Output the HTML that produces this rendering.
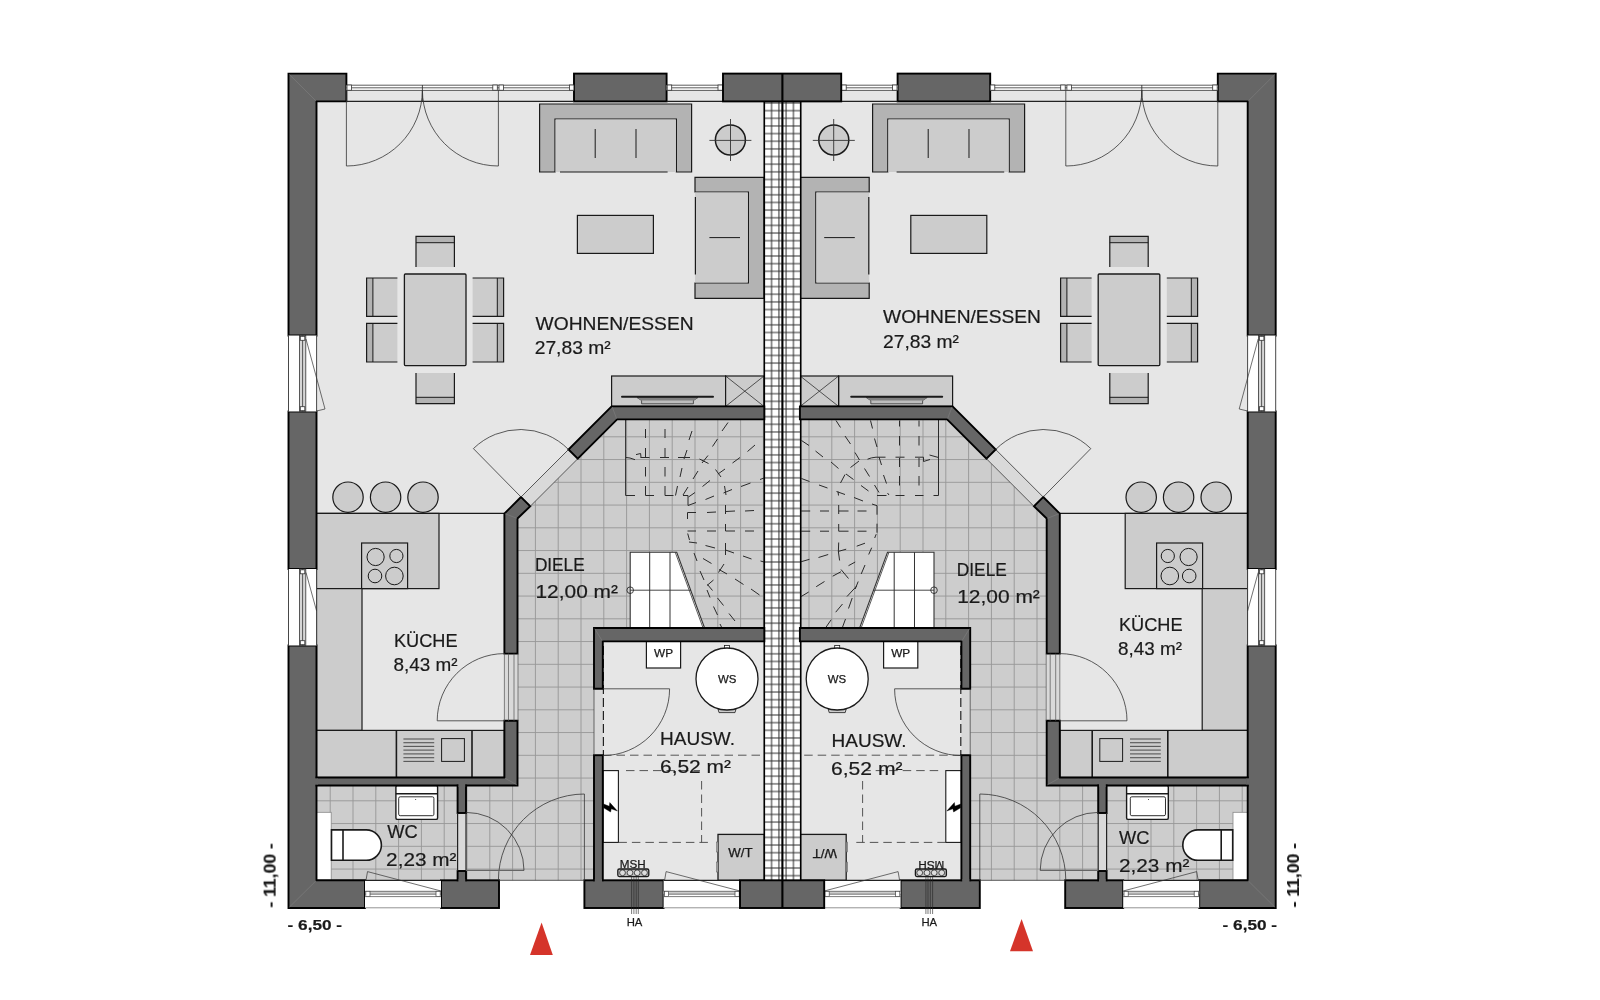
<!DOCTYPE html>
<html lang="de">
<head>
<meta charset="utf-8">
<title>Grundriss Erdgeschoss</title>
<style>
html,body{margin:0;padding:0;background:#fff;}
body{width:1600px;height:1000px;overflow:hidden;}
svg{display:block;}
text{font-family:"Liberation Sans",sans-serif;}
</style>
</head>
<body>
<svg width="1600" height="1000" viewBox="0 0 1600 1000">
<defs>
<pattern id="tile" patternUnits="userSpaceOnUse" x="615.20" y="425.43" width="22.80" height="22.75"><rect width="22.80" height="22.75" fill="#cdcdcd"/><path d="M11.40,0 V22.75 M0,11.38 H22.80" stroke="#969696" stroke-width="0.9" fill="none"/></pattern>
<pattern id="pw" patternUnits="userSpaceOnUse" x="760.60" y="99.17" width="7.30" height="7.65"><rect width="7.30" height="7.65" fill="#fff"/><path d="M3.65,0 V7.65 M0,3.83 H7.30" stroke="#2a2a2a" stroke-width="1" fill="none"/></pattern>
<g id="hfloor">
<rect x="316.50" y="101.40" width="447.80" height="778.90" fill="#e6e6e6" stroke="none" stroke-width="0" />
<rect x="346.40" y="90.20" width="227.60" height="11.20" fill="#e6e6e6" stroke="none" stroke-width="0" />
<rect x="666.60" y="90.20" width="56.40" height="11.20" fill="#e6e6e6" stroke="none" stroke-width="0" />
</g>
<g id="hfurn">
<polygon points="539.60,104.00 691.60,104.00 691.60,172.00 676.40,172.00 676.40,119.00 555.00,119.00 555.00,172.00 539.60,172.00" fill="#b3b3b3" stroke="#1a1a1a" stroke-width="1.2" />
<rect x="555.60" y="119.60" width="120.20" height="52.40" fill="#ccc" stroke="none" stroke-width="0" />
<line x1="560.00" y1="172.00" x2="667.60" y2="172.00" stroke="#1a1a1a" stroke-width="1.2" />
<line x1="595.20" y1="129.00" x2="595.20" y2="158.00" stroke="#1a1a1a" stroke-width="1" />
<line x1="636.00" y1="129.00" x2="636.00" y2="158.00" stroke="#1a1a1a" stroke-width="1" />
<polygon points="764.00,177.40 695.00,177.40 695.00,192.00 748.40,192.00 748.40,283.00 695.00,283.00 695.00,298.40 764.00,298.40" fill="#b3b3b3" stroke="#1a1a1a" stroke-width="1.2" />
<rect x="695.00" y="192.60" width="52.80" height="89.80" fill="#ccc" stroke="none" stroke-width="0" />
<line x1="695.40" y1="197.00" x2="695.40" y2="274.40" stroke="#1a1a1a" stroke-width="1.2" />
<line x1="709.40" y1="237.60" x2="740.00" y2="237.60" stroke="#1a1a1a" stroke-width="1" />
<rect x="577.40" y="215.40" width="76.00" height="38.00" fill="#ccc" stroke="#1a1a1a" stroke-width="1.2" />
<circle cx="730.40" cy="140.00" r="15.00" fill="#ccc" stroke="#1a1a1a" stroke-width="1.5"/>
<line x1="709.40" y1="140.40" x2="751.40" y2="140.40" stroke="#333" stroke-width="0.9" />
<line x1="730.50" y1="119.00" x2="730.50" y2="161.00" stroke="#333" stroke-width="0.9" />
<rect x="416.00" y="236.40" width="38.40" height="30.60" fill="#ccc" stroke="none" stroke-width="0" /><rect x="416.00" y="236.40" width="38.40" height="6.30" fill="#b3b3b3" stroke="none" stroke-width="0" /><path d="M416.00,267.00 V236.40 H454.40 V267.00" fill="none" stroke="#1a1a1a" stroke-width="1.2" /><line x1="416.00" y1="242.70" x2="454.40" y2="242.70" stroke="#1a1a1a" stroke-width="1" />
<rect x="416.00" y="373.00" width="38.40" height="30.60" fill="#ccc" stroke="none" stroke-width="0" /><rect x="416.00" y="397.30" width="38.40" height="6.30" fill="#b3b3b3" stroke="none" stroke-width="0" /><path d="M416.00,373.00 V403.60 H454.40 V373.00" fill="none" stroke="#1a1a1a" stroke-width="1.2" /><line x1="416.00" y1="397.30" x2="454.40" y2="397.30" stroke="#1a1a1a" stroke-width="1" />
<rect x="366.60" y="278.00" width="30.80" height="38.40" fill="#ccc" stroke="none" stroke-width="0" /><rect x="366.60" y="278.00" width="6.30" height="38.40" fill="#b3b3b3" stroke="none" stroke-width="0" /><path d="M397.40,278.00 H366.60 V316.40 H397.40" fill="none" stroke="#1a1a1a" stroke-width="1.2" /><line x1="372.90" y1="278.00" x2="372.90" y2="316.40" stroke="#1a1a1a" stroke-width="1" />
<rect x="366.60" y="323.40" width="30.80" height="38.60" fill="#ccc" stroke="none" stroke-width="0" /><rect x="366.60" y="323.40" width="6.30" height="38.60" fill="#b3b3b3" stroke="none" stroke-width="0" /><path d="M397.40,323.40 H366.60 V362.00 H397.40" fill="none" stroke="#1a1a1a" stroke-width="1.2" /><line x1="372.90" y1="323.40" x2="372.90" y2="362.00" stroke="#1a1a1a" stroke-width="1" />
<rect x="472.60" y="278.00" width="31.00" height="38.40" fill="#ccc" stroke="none" stroke-width="0" /><rect x="497.30" y="278.00" width="6.30" height="38.40" fill="#b3b3b3" stroke="none" stroke-width="0" /><path d="M472.60,278.00 H503.60 V316.40 H472.60" fill="none" stroke="#1a1a1a" stroke-width="1.2" /><line x1="497.30" y1="278.00" x2="497.30" y2="316.40" stroke="#1a1a1a" stroke-width="1" />
<rect x="472.60" y="323.40" width="31.00" height="38.60" fill="#ccc" stroke="none" stroke-width="0" /><rect x="497.30" y="323.40" width="6.30" height="38.60" fill="#b3b3b3" stroke="none" stroke-width="0" /><path d="M472.60,323.40 H503.60 V362.00 H472.60" fill="none" stroke="#1a1a1a" stroke-width="1.2" /><line x1="497.30" y1="323.40" x2="497.30" y2="362.00" stroke="#1a1a1a" stroke-width="1" />
<rect x="404.40" y="274.00" width="61.60" height="91.60" fill="#ccc" stroke="#1a1a1a" stroke-width="1.3" rx="1"/>
<rect x="611.60" y="376.00" width="114.00" height="30.40" fill="#ccc" stroke="#1a1a1a" stroke-width="1.2" />
<rect x="725.60" y="376.00" width="38.40" height="30.40" fill="#ccc" stroke="#1a1a1a" stroke-width="1.2" />
<line x1="725.60" y1="376.00" x2="764.00" y2="406.40" stroke="#1a1a1a" stroke-width="0.7" />
<line x1="725.60" y1="406.40" x2="764.00" y2="376.00" stroke="#1a1a1a" stroke-width="0.7" />
<polygon points="637.00,397.50 698.00,397.50 693.40,400.50 693.40,403.80 641.60,403.80 641.60,400.50" fill="#bdbdbd" stroke="#333" stroke-width="0.8" />
<polygon points="637.00,397.50 698.00,397.50 693.40,400.50 641.60,400.50" fill="#808080" stroke="none" stroke-width="0" />
<line x1="622.00" y1="396.80" x2="713.00" y2="396.80" stroke="#1a1a1a" stroke-width="2" stroke-linecap="round"/>
<circle cx="348.00" cy="497.20" r="15.20" fill="#ccc" stroke="#1a1a1a" stroke-width="1.2"/>
<circle cx="385.60" cy="497.20" r="15.20" fill="#ccc" stroke="#1a1a1a" stroke-width="1.2"/>
<circle cx="423.00" cy="497.20" r="15.20" fill="#ccc" stroke="#1a1a1a" stroke-width="1.2"/>
<rect x="316.50" y="513.40" width="122.50" height="75.20" fill="#ccc" stroke="#1a1a1a" stroke-width="1.2" />
<line x1="316.50" y1="513.40" x2="504.40" y2="513.40" stroke="#1a1a1a" stroke-width="1.2" />
<rect x="361.60" y="543.00" width="46.00" height="45.60" fill="#ccc" stroke="#1a1a1a" stroke-width="1.2" />
<circle cx="375.60" cy="557.00" r="8.60" fill="#ccc" stroke="#1a1a1a" stroke-width="1"/>
<circle cx="396.40" cy="556.00" r="6.60" fill="#ccc" stroke="#1a1a1a" stroke-width="1"/>
<circle cx="375.00" cy="576.00" r="6.80" fill="#ccc" stroke="#1a1a1a" stroke-width="1"/>
<circle cx="394.40" cy="576.00" r="8.80" fill="#ccc" stroke="#1a1a1a" stroke-width="1"/>
<rect x="316.50" y="588.60" width="45.50" height="141.80" fill="#ccc" stroke="#1a1a1a" stroke-width="1.2" />
<rect x="316.50" y="730.40" width="187.90" height="47.10" fill="#ccc" stroke="#1a1a1a" stroke-width="1.2" />
<line x1="396.40" y1="730.40" x2="396.40" y2="777.50" stroke="#1a1a1a" stroke-width="1.6" />
<line x1="472.00" y1="730.40" x2="472.00" y2="777.50" stroke="#1a1a1a" stroke-width="1.6" />
<line x1="403.40" y1="739.00" x2="434.20" y2="739.00" stroke="#555" stroke-width="1.1" />
<line x1="403.40" y1="742.70" x2="434.20" y2="742.70" stroke="#555" stroke-width="1.1" />
<line x1="403.40" y1="746.40" x2="434.20" y2="746.40" stroke="#555" stroke-width="1.1" />
<line x1="403.40" y1="750.10" x2="434.20" y2="750.10" stroke="#555" stroke-width="1.1" />
<line x1="403.40" y1="753.90" x2="434.20" y2="753.90" stroke="#555" stroke-width="1.1" />
<line x1="403.40" y1="757.70" x2="434.20" y2="757.70" stroke="#555" stroke-width="1.1" />
<line x1="403.40" y1="761.40" x2="434.20" y2="761.40" stroke="#555" stroke-width="1.1" />
<rect x="441.60" y="738.60" width="22.80" height="22.80" fill="#ccc" stroke="#1a1a1a" stroke-width="1" />
<rect x="316.50" y="812.30" width="14.70" height="68.00" fill="#fff" stroke="#888" stroke-width="0.8" />
<path d="M331.5,829.9 H366.2 A15.2,15.2 0 0 1 366.2,860.3 H331.5 Z" fill="#fff" stroke="#1a1a1a" stroke-width="1.6" />
<line x1="343.00" y1="829.90" x2="343.00" y2="860.30" stroke="#1a1a1a" stroke-width="1.6" />
<rect x="395.90" y="785.50" width="41.70" height="33.90" fill="#fff" stroke="#1a1a1a" stroke-width="1.4" rx="1.5"/>
<line x1="395.90" y1="793.80" x2="437.60" y2="793.80" stroke="#1a1a1a" stroke-width="1.6" />
<rect x="398.70" y="796.80" width="35.20" height="18.90" fill="#fff" stroke="#1a1a1a" stroke-width="0.9" rx="1.5"/>
<circle cx="415.70" cy="799.40" r="0.50" fill="#1a1a1a" stroke="#1a1a1a" stroke-width="0"/>
<rect x="646.40" y="641.40" width="34.20" height="26.60" fill="#fff" stroke="#1a1a1a" stroke-width="1.2" />
<rect x="724.50" y="645.50" width="5.00" height="3.50" fill="#fff" stroke="#1a1a1a" stroke-width="0.8" />
<polygon points="718.00,709.00 736.00,709.00 735.00,712.60 719.00,712.60" fill="#ccc" stroke="#1a1a1a" stroke-width="0.8" />
<circle cx="727.00" cy="679.00" r="31.00" fill="#fff" stroke="#1a1a1a" stroke-width="1.3"/>
<rect x="603.00" y="770.60" width="15.40" height="71.80" fill="#fff" stroke="#1a1a1a" stroke-width="1.1" />
<polygon points="603.60,804.00 609.30,806.30 609.80,802.60 617.40,811.00 611.30,808.80 610.60,812.00 603.60,807.80" fill="#000" stroke="#000" stroke-width="0.4" />
<rect x="718.00" y="834.40" width="46.30" height="45.90" fill="#ccc" stroke="#1a1a1a" stroke-width="1.3" />
<rect x="716.60" y="842.00" width="1.40" height="10.00" fill="#b3b3b3" stroke="#555" stroke-width="0.5" />
<rect x="716.60" y="862.00" width="1.40" height="10.00" fill="#b3b3b3" stroke="#555" stroke-width="0.5" />
<rect x="617.80" y="869.00" width="31.00" height="7.60" fill="#bbb" stroke="#1a1a1a" stroke-width="1.3" rx="1.5"/>
<circle cx="622.50" cy="872.80" r="2.90" fill="#ddd" stroke="#1a1a1a" stroke-width="0.7"/>
<circle cx="630.00" cy="872.80" r="2.90" fill="#ddd" stroke="#1a1a1a" stroke-width="0.7"/>
<circle cx="637.20" cy="872.80" r="2.90" fill="#ddd" stroke="#1a1a1a" stroke-width="0.7"/>
<circle cx="644.50" cy="872.80" r="2.90" fill="#ddd" stroke="#1a1a1a" stroke-width="0.7"/>
<line x1="603.00" y1="755.20" x2="764.00" y2="755.20" stroke="#444" stroke-width="0.9" stroke-dasharray="8.5 5"/>
<line x1="626.00" y1="770.60" x2="700.00" y2="770.60" stroke="#444" stroke-width="0.9" stroke-dasharray="8.5 5"/>
<line x1="701.60" y1="781.00" x2="701.60" y2="842.40" stroke="#444" stroke-width="0.9" stroke-dasharray="8.5 5"/>
<line x1="618.40" y1="842.40" x2="712.00" y2="842.40" stroke="#444" stroke-width="0.9" stroke-dasharray="8.5 5"/>
<line x1="603.40" y1="646.00" x2="603.40" y2="756.00" stroke="#222" stroke-width="1.2" stroke-dasharray="9 4"/>
<polygon points="630.20,552.20 676.70,552.20 704.50,627.80 630.20,627.80" fill="#fff" stroke="#333" stroke-width="1.1" />
<line x1="675.20" y1="552.20" x2="703.00" y2="627.80" stroke="#333" stroke-width="0.8" />
<line x1="649.70" y1="552.20" x2="649.70" y2="627.80" stroke="#333" stroke-width="1" />
<line x1="670.00" y1="552.20" x2="670.00" y2="627.80" stroke="#333" stroke-width="1" />
<line x1="630.20" y1="590.20" x2="691.00" y2="590.20" stroke="#333" stroke-width="0.9" />
<circle cx="630.20" cy="590.20" r="3.30" fill="none" stroke="#1a1a1a" stroke-width="0.8"/>
</g>
<g id="hwall">
<polygon points="288.50,73.60 346.40,73.60 346.40,101.40 316.50,101.40 316.50,335.50 288.50,335.50" fill="#666" stroke="#000" stroke-width="1.9" />
<rect x="574.00" y="73.60" width="92.60" height="27.80" fill="#666" stroke="#000" stroke-width="1.9" />
<rect x="288.50" y="411.50" width="28.00" height="157.50" fill="#666" stroke="#000" stroke-width="1.9" />
<polygon points="288.50,645.50 316.50,645.50 316.50,880.30 365.00,880.30 365.00,908.00 288.50,908.00" fill="#666" stroke="#000" stroke-width="1.9" />
<rect x="441.00" y="880.30" width="58.00" height="27.70" fill="#666" stroke="#000" stroke-width="1.9" />
<rect x="584.40" y="880.30" width="79.20" height="27.70" fill="#666" stroke="#000" stroke-width="1.9" />
<line x1="289.50" y1="74.60" x2="316.00" y2="101.00" stroke="#7d7d7d" stroke-width="0.7" />
<line x1="289.50" y1="907.00" x2="316.00" y2="880.80" stroke="#7d7d7d" stroke-width="0.7" />
<polygon points="764.30,406.40 611.60,406.40 568.50,449.50 577.75,458.75 617.10,419.40 764.30,419.40" fill="#666" stroke="#000" stroke-width="1.9" />
<polygon points="521.00,497.00 504.40,513.60 504.40,653.60 517.50,653.60 517.50,518.50 530.25,506.25" fill="#666" stroke="#000" stroke-width="1.9" />
<polygon points="504.40,720.80 517.50,720.80 517.50,785.50 316.50,785.50 316.50,777.50 504.40,777.50" fill="#666" stroke="#000" stroke-width="1.9" />
<rect x="457.60" y="785.50" width="8.40" height="27.50" fill="#666" stroke="#000" stroke-width="1.9" />
<rect x="457.60" y="871.00" width="8.40" height="9.30" fill="#666" stroke="#000" stroke-width="1.9" />
<polygon points="764.30,628.00 594.00,628.00 594.00,688.80 602.80,688.80 602.80,641.40 764.30,641.40" fill="#666" stroke="#000" stroke-width="1.9" />
<rect x="594.00" y="755.20" width="8.80" height="125.10" fill="#666" stroke="#000" stroke-width="1.9" />
<line x1="612.30" y1="407.20" x2="616.60" y2="418.60" stroke="#7d7d7d" stroke-width="0.7" />
<line x1="505.30" y1="513.80" x2="516.80" y2="518.30" stroke="#7d7d7d" stroke-width="0.7" />
<line x1="594.80" y1="628.80" x2="602.20" y2="640.80" stroke="#7d7d7d" stroke-width="0.7" />
<line x1="516.80" y1="784.80" x2="505.00" y2="778.20" stroke="#7d7d7d" stroke-width="0.7" />
<rect x="315.00" y="778.30" width="3.00" height="6.40" fill="#666" stroke="none" stroke-width="0" />
<rect x="458.40" y="784.00" width="6.80" height="3.00" fill="#666" stroke="none" stroke-width="0" />
<rect x="458.40" y="879.00" width="6.80" height="3.00" fill="#666" stroke="none" stroke-width="0" />
<rect x="594.80" y="879.00" width="7.20" height="3.00" fill="#666" stroke="none" stroke-width="0" />
<line x1="631.60" y1="877.00" x2="631.60" y2="914.00" stroke="#222" stroke-width="0.6" />
<line x1="633.90" y1="877.00" x2="633.90" y2="914.00" stroke="#222" stroke-width="0.6" />
<line x1="636.20" y1="877.00" x2="636.20" y2="914.00" stroke="#222" stroke-width="0.6" />
<line x1="638.30" y1="877.00" x2="638.30" y2="914.00" stroke="#222" stroke-width="0.6" />
<line x1="499.00" y1="880.30" x2="584.40" y2="880.30" stroke="#333" stroke-width="0.8" />
<rect x="346.40" y="85.00" width="227.60" height="5.25" fill="#fff" stroke="none" stroke-width="0" /><line x1="346.40" y1="85.20" x2="574.00" y2="85.20" stroke="#333" stroke-width="0.8" /><line x1="346.40" y1="87.80" x2="574.00" y2="87.80" stroke="#333" stroke-width="0.8" /><line x1="346.40" y1="90.40" x2="574.00" y2="90.40" stroke="#333" stroke-width="0.8" /><line x1="346.40" y1="101.40" x2="574.00" y2="101.40" stroke="#222" stroke-width="1.1" /><rect x="347.00" y="85.00" width="4.50" height="5.25" fill="#fff" stroke="#333" stroke-width="0.8" /><rect x="492.80" y="85.00" width="4.50" height="5.25" fill="#fff" stroke="#333" stroke-width="0.8" /><rect x="499.00" y="85.00" width="4.50" height="5.25" fill="#fff" stroke="#333" stroke-width="0.8" /><rect x="569.40" y="85.00" width="4.50" height="5.25" fill="#fff" stroke="#333" stroke-width="0.8" />
<rect x="666.60" y="85.00" width="56.40" height="5.25" fill="#fff" stroke="none" stroke-width="0" /><line x1="666.60" y1="85.20" x2="723.00" y2="85.20" stroke="#333" stroke-width="0.8" /><line x1="666.60" y1="87.80" x2="723.00" y2="87.80" stroke="#333" stroke-width="0.8" /><line x1="666.60" y1="90.40" x2="723.00" y2="90.40" stroke="#333" stroke-width="0.8" /><line x1="666.60" y1="101.40" x2="723.00" y2="101.40" stroke="#222" stroke-width="1.1" /><rect x="667.20" y="85.00" width="4.50" height="5.25" fill="#fff" stroke="#333" stroke-width="0.8" /><rect x="718.00" y="85.00" width="4.50" height="5.25" fill="#fff" stroke="#333" stroke-width="0.8" />
<line x1="346.40" y1="90.20" x2="346.40" y2="166.00" stroke="#333" stroke-width="0.8" />
<line x1="498.40" y1="90.20" x2="498.40" y2="166.00" stroke="#333" stroke-width="0.8" />
<line x1="422.40" y1="85.00" x2="422.40" y2="101.40" stroke="#333" stroke-width="0.9" />
<path d="M346.4,166 A76,76 0 0 0 422.4,90" fill="none" stroke="#333" stroke-width="0.8" />
<path d="M498.4,166 A76,76 0 0 1 422.4,90" fill="none" stroke="#333" stroke-width="0.8" />
<rect x="288.50" y="335.50" width="28.10" height="76.00" fill="#fff" stroke="none" stroke-width="0" /><rect x="299.50" y="335.50" width="6.30" height="76.00" fill="#d6d6d6" stroke="#333" stroke-width="0.8" /><line x1="302.60" y1="335.50" x2="302.60" y2="411.50" stroke="#333" stroke-width="0.8" /><line x1="288.50" y1="335.50" x2="288.50" y2="411.50" stroke="#333" stroke-width="0.9" /><line x1="316.60" y1="335.50" x2="316.60" y2="411.50" stroke="#333" stroke-width="0.9" /><rect x="300.30" y="336.30" width="4.50" height="4.00" fill="#fff" stroke="#333" stroke-width="0.8" /><rect x="300.30" y="406.70" width="4.50" height="4.00" fill="#fff" stroke="#333" stroke-width="0.8" /><path d="M306,339.0 L325,409.0 L316.6,411.0" fill="none" stroke="#333" stroke-width="0.7" />
<rect x="288.50" y="569.00" width="28.10" height="76.50" fill="#fff" stroke="none" stroke-width="0" /><rect x="299.50" y="569.00" width="6.30" height="76.50" fill="#d6d6d6" stroke="#333" stroke-width="0.8" /><line x1="302.60" y1="569.00" x2="302.60" y2="645.50" stroke="#333" stroke-width="0.8" /><line x1="288.50" y1="569.00" x2="288.50" y2="645.50" stroke="#333" stroke-width="0.9" /><line x1="316.60" y1="569.00" x2="316.60" y2="645.50" stroke="#333" stroke-width="0.9" /><rect x="300.30" y="569.80" width="4.50" height="4.00" fill="#fff" stroke="#333" stroke-width="0.8" /><rect x="300.30" y="640.70" width="4.50" height="4.00" fill="#fff" stroke="#333" stroke-width="0.8" /><path d="M306,572.5 L316.6,611.0" fill="none" stroke="#333" stroke-width="0.7" />
<rect x="365.00" y="880.30" width="76.00" height="27.70" fill="#fff" stroke="none" stroke-width="0" /><line x1="365.00" y1="880.30" x2="441.00" y2="880.30" stroke="#222" stroke-width="1.2" /><line x1="365.00" y1="907.80" x2="441.00" y2="907.80" stroke="#888" stroke-width="0.9" /><rect x="365.00" y="891.30" width="76.00" height="2.90" fill="#ccc" stroke="none" stroke-width="0" /><line x1="365.00" y1="891.30" x2="441.00" y2="891.30" stroke="#444" stroke-width="0.7" /><line x1="365.00" y1="894.20" x2="441.00" y2="894.20" stroke="#444" stroke-width="0.7" /><line x1="365.00" y1="896.60" x2="441.00" y2="896.60" stroke="#444" stroke-width="0.7" /><rect x="365.80" y="891.30" width="4.20" height="5.30" fill="#fff" stroke="#444" stroke-width="0.7" /><rect x="436.00" y="891.30" width="4.20" height="5.30" fill="#fff" stroke="#444" stroke-width="0.7" /><path d="M366.0,880.3 L367.5,871.6 L441.0,891" fill="none" stroke="#333" stroke-width="0.7" />
<rect x="663.60" y="880.30" width="76.40" height="27.70" fill="#fff" stroke="none" stroke-width="0" /><line x1="663.60" y1="880.30" x2="740.00" y2="880.30" stroke="#222" stroke-width="1.2" /><line x1="663.60" y1="907.80" x2="740.00" y2="907.80" stroke="#888" stroke-width="0.9" /><rect x="663.60" y="891.30" width="76.40" height="2.90" fill="#ccc" stroke="none" stroke-width="0" /><line x1="663.60" y1="891.30" x2="740.00" y2="891.30" stroke="#444" stroke-width="0.7" /><line x1="663.60" y1="894.20" x2="740.00" y2="894.20" stroke="#444" stroke-width="0.7" /><line x1="663.60" y1="896.60" x2="740.00" y2="896.60" stroke="#444" stroke-width="0.7" /><rect x="664.40" y="891.30" width="4.20" height="5.30" fill="#fff" stroke="#444" stroke-width="0.7" /><rect x="735.00" y="891.30" width="4.20" height="5.30" fill="#fff" stroke="#444" stroke-width="0.7" /><path d="M664.6,880.3 L666.1,871.6 L740.0,891" fill="none" stroke="#333" stroke-width="0.7" />
<line x1="584.40" y1="794.00" x2="584.40" y2="880.30" stroke="#333" stroke-width="0.8" />
<path d="M584.4,794 A86.3,86.3 0 0 0 498.4,880.3" fill="none" stroke="#333" stroke-width="0.8" />
<line x1="457.60" y1="813.00" x2="457.60" y2="871.00" stroke="#222" stroke-width="1.2" />
<line x1="466.00" y1="813.00" x2="466.00" y2="871.00" stroke="#222" stroke-width="1.2" />
<line x1="466.00" y1="870.40" x2="524.00" y2="870.40" stroke="#666" stroke-width="1.1" />
<path d="M524,870.4 A58,58 0 0 0 466,812.4" fill="none" stroke="#333" stroke-width="0.8" />
<line x1="504.40" y1="653.60" x2="504.40" y2="720.80" stroke="#555" stroke-width="0.7" />
<line x1="508.50" y1="653.60" x2="508.50" y2="720.80" stroke="#555" stroke-width="0.7" />
<line x1="514.00" y1="653.60" x2="514.00" y2="720.80" stroke="#555" stroke-width="0.7" />
<line x1="518.00" y1="653.60" x2="518.00" y2="720.80" stroke="#555" stroke-width="0.7" />
<line x1="437.20" y1="720.80" x2="504.40" y2="720.80" stroke="#333" stroke-width="0.8" />
<path d="M437.2,720.8 A67.2,67.2 0 0 1 504.4,653.6" fill="none" stroke="#333" stroke-width="0.8" />
<line x1="568.50" y1="449.50" x2="521.00" y2="497.00" stroke="#333" stroke-width="0.8" />
<line x1="577.75" y1="458.75" x2="530.25" y2="506.25" stroke="#333" stroke-width="0.8" />
<line x1="521.00" y1="497.00" x2="473.40" y2="448.60" stroke="#333" stroke-width="0.8" />
<path d="M473.4,448.6 A67.6,67.6 0 0 1 568.5,449.5" fill="none" stroke="#333" stroke-width="0.8" />
<line x1="594.00" y1="688.80" x2="594.00" y2="755.20" stroke="#333" stroke-width="0.7" />
<line x1="602.80" y1="688.80" x2="669.60" y2="688.80" stroke="#333" stroke-width="0.8" />
<path d="M669.6,688.8 A66.8,66.8 0 0 1 602.8,755.6" fill="none" stroke="#333" stroke-width="0.8" />
</g>
</defs>
<rect width="1600" height="1000" fill="#fff"/>
<use href="#hfloor"/>
<use href="#hfloor" transform="translate(1564.2,0) scale(-1,1)"/>
<g fill="url(#tile)" stroke="none">
<polygon points="617.10,419.40 764.30,419.40 764.30,628.00 594.00,628.00 594.00,880.30 316.50,880.30 316.50,785.50 518.00,785.50 518.00,518.50"/>
<polygon points="947.10,419.40 799.90,419.40 799.90,628.00 970.20,628.00 970.20,880.30 1247.70,880.30 1247.70,785.50 1046.20,785.50 1046.20,518.50"/>
</g>
<g fill="#d9d9d9" stroke="none">
<polygon points="568.50,449.50 577.75,458.75 530.25,506.25 521.00,497.00"/>
<polygon points="504.40,653.60 518.00,653.60 518.00,720.80 504.40,720.80"/>
<polygon points="594.00,688.80 602.80,688.80 602.80,755.20 594.00,755.20"/>
<polygon points="457.60,813.00 466.00,813.00 466.00,871.00 457.60,871.00"/>
<polygon points="995.70,449.50 986.45,458.75 1033.95,506.25 1043.20,497.00"/>
<polygon points="1059.80,653.60 1046.20,653.60 1046.20,720.80 1059.80,720.80"/>
<polygon points="970.20,688.80 961.40,688.80 961.40,755.20 970.20,755.20"/>
<polygon points="1106.60,813.00 1098.20,813.00 1098.20,871.00 1106.60,871.00"/>
</g>
<use href="#hfurn"/>
<use href="#hfurn" transform="translate(1564.2,0) scale(-1,1)"/>
<path d="M625.6,419.5 V495.5 H635 M645.5,429.0 V438.0 M645.5,448.0 V457.5 M645.5,467.0 V476.5 M645.5,486.0 V495.5 M640.5,457.5 H649.5 M645.5,495.5 H654.0 M665.0,429.0 V438.0 M665.0,448.0 V457.5 M665.0,467.0 V476.5 M665.0,486.0 V495.5 M660.0,457.5 H669.0 M665.0,495.5 H673.5 M626,457.5 L630,458 L635,459.7 M636,454.6 L640.6,453.5 L641,457.5 M692.0,431.0 L689.0,440.0 M687.0,450.0 L684.0,459.0 M678.0,457.5 L690.0,457.5 M682.0,468.0 L680.0,477.0 M677.5,486.0 L675.5,495.5 M728.0,422.5 L722.0,431.0 M717.5,439.0 L712.5,446.5 M708.0,455.5 L702.0,463.0 M699.5,459.0 L708.5,463.5 M698.0,471.0 L693.0,479.0 M688.0,487.0 L683.0,495.0 M755.0,445.0 L747.5,451.5 M740.0,457.5 L732.5,463.0 M725.0,469.0 L718.0,474.0 M715.5,469.5 L721.0,477.0 M710.0,480.5 L702.5,486.5 M695.0,492.5 L688.5,497.0 M764.0,478.0 L760.0,479.5 M750.5,483.0 L741.0,486.5 M732.0,489.5 L723.5,493.0 M724.5,486.0 L726.0,495.0 M714.0,496.0 L705.5,499.5 M696.0,502.5 L688.0,505.5 M707.0,512.5 L716.0,512.0 M725.5,505.0 L725.5,514.0 M725.5,511.5 L735.0,511.0 M745.0,511.0 L754.0,510.5 M687.5,531.0 L696.0,531.0 M707.0,531.0 L716.0,531.0 M725.5,524.0 L725.5,531.0 M725.5,531.0 L735.0,531.0 M745.0,531.0 L754.0,531.0 M687.7,533.5 L689.5,540.0 M689.0,542.0 L697.0,543.0 M705.5,545.5 L715.0,548.0 M725.5,543.0 L725.5,555.0 M725.5,550.0 L734.0,553.0 M743.0,556.0 L751.5,559.0 M760.5,561.0 L764.0,562.0 M694.0,553.0 L697.0,561.0 M703.0,558.5 L711.5,563.5 M724.0,564.0 L718.5,572.5 M719.0,569.5 L727.0,574.0 M735.0,579.0 L743.5,584.5 M751.0,589.0 L759.5,595.0 M700.0,571.0 L704.0,580.0 M713.5,580.0 L707.0,585.5 M707.5,584.5 L712.5,590.5 M717.5,598.0 L723.5,605.5 M729.0,613.5 L735.0,621.0 M707.0,590.0 L710.0,597.5 M713.5,606.5 L717.5,615.0 M720.0,624.0 L721.5,627.0 M683,495.5 H688 V505.5 M687.5,519 V512.5 H696" fill="none" stroke="#2a2a2a" stroke-width="1.0" />
<path d="M938.5,419.5 V495.5 M870.5,420.5 L872.5,428.5 M874.5,438.5 L877.0,447.0 M879.0,457.0 L881.5,465.0 M883.5,475.0 L886.5,483.5 M836.0,420.5 L840.5,427.5 M845.0,436.0 L850.5,444.0 M855.0,452.5 L859.5,460.0 M864.5,468.5 L869.5,476.5 M874.5,485.0 L879.0,492.5 M801.5,440.5 L809.0,445.5 M815.5,451.0 L823.0,457.0 M831.0,462.0 L838.5,468.5 M846.0,474.0 L853.5,479.5 M861.0,485.5 L868.5,491.0 M801.5,478.5 L809.5,481.5 M819.0,485.0 L827.5,488.0 M836.5,491.5 L845.0,494.5 M854.0,497.5 L863.0,501.0 M872.0,504.0 L877.0,505.7 M850.5,467.5 L859.0,461.0 M840.5,483.0 L845.0,474.5 M838.5,495.5 L838.0,491.5 M887.5,493.0 L889.0,495.0 M923.5,457.2 L915.0,457.2 M904.5,457.2 L895.5,457.2 M885.5,457.2 L876.0,457.2 M938.5,495.5 L933.5,495.5 M923.5,495.5 L915.0,495.5 M904.5,495.5 L895.5,495.5 M886.5,495.5 L877.0,495.5 M801.2,511.0 L810.2,511.0 M820.0,511.0 L829.0,511.0 M838.7,511.0 L848.5,511.0 M857.5,511.0 L866.5,511.0 M801.2,531.2 L810.2,531.2 M820.0,531.2 L829.0,531.2 M838.7,531.2 L848.5,531.2 M857.5,531.2 L866.5,531.2 M838.7,505.0 L838.7,514.0 M838.7,524.0 L838.7,531.2 M877.0,505.7 L877.0,514.7 M877.0,523.7 L877.0,532.7 M876.2,534.2 L874.7,538.0 M871.7,547.7 L868.7,554.5 M865.0,565.0 L861.2,574.0 M858.2,581.5 L855.2,589.0 M852.2,598.0 L848.5,608.5 M845.5,619.0 L842.5,627.2 M856.7,586.0 L847.0,596.5 M842.5,604.0 L835.7,612.2 M831.2,619.7 L826.0,627.2 M865.0,543.2 L856.7,546.2 M846.2,549.2 L838.0,551.5 M828.2,554.5 L818.5,557.5 M809.5,559.3 L801.2,561.7 M855.2,562.0 L848.5,565.7 M841.0,571.7 L832.7,576.2 M824.5,581.5 L816.2,586.7 M808.7,592.0 L801.2,596.5 M841.0,569.5 L848.5,578.5 M919.0,420.5 L919.0,426.5 M919.0,436.0 L919.0,445.5 M919.0,458.0 L919.0,467.0 M919.0,476.0 L919.0,485.5 M899.5,420.5 L899.5,426.5 M899.5,436.0 L899.5,445.5 M899.5,458.0 L899.5,467.0 M899.5,476.0 L899.5,485.5 M876,457.2 Q871,457.6 867.5,459.2 M923.5,457.2 V461.5 L930,459.5 M929.5,455 L938.5,457.5 M838.7,542.5 Q837.6,551.5 839.6,560.5" fill="none" stroke="#2a2a2a" stroke-width="1.0" />
<rect x="764.25" y="101.4" width="36.5" height="778.9" fill="url(#pw)"/>
<line x1="764.25" y1="101.40" x2="764.25" y2="880.30" stroke="#000" stroke-width="1.6" />
<line x1="800.75" y1="101.40" x2="800.75" y2="880.30" stroke="#000" stroke-width="1.6" />
<use href="#hwall"/>
<use href="#hwall" transform="translate(1564.2,0) scale(-1,1)"/>
<rect x="723.00" y="73.60" width="118.20" height="27.80" fill="#666" stroke="#000" stroke-width="1.9" />
<rect x="740.00" y="880.30" width="84.20" height="27.70" fill="#666" stroke="#000" stroke-width="1.9" />
<line x1="782.40" y1="73.60" x2="782.40" y2="908.00" stroke="#000" stroke-width="2.1" />
<polygon points="541.60,922.60 552.80,955.00 530.00,955.00" fill="#d5342a" stroke="none" stroke-width="0" />
<polygon points="1021.60,919.00 1033.00,951.20 1010.00,951.20" fill="#d5342a" stroke="none" stroke-width="0" />
<g opacity="0.999" stroke="#1a1a1a" stroke-width="0.2">
<text x="535.6" y="330.0" font-size="18.2" font-weight="normal" fill="#1a1a1a" textLength="158.0" lengthAdjust="spacingAndGlyphs" >WOHNEN/ESSEN</text>
<text x="534.7" y="354.3" font-size="18.2" font-weight="normal" fill="#1a1a1a" textLength="76.0" lengthAdjust="spacingAndGlyphs" >27,83 m²</text>
<text x="883.0" y="323.4" font-size="18.2" font-weight="normal" fill="#1a1a1a" textLength="158.0" lengthAdjust="spacingAndGlyphs" >WOHNEN/ESSEN</text>
<text x="883.0" y="348.0" font-size="18.2" font-weight="normal" fill="#1a1a1a" textLength="76.0" lengthAdjust="spacingAndGlyphs" >27,83 m²</text>
<text x="534.9" y="570.6" font-size="19.2" font-weight="normal" fill="#1a1a1a" textLength="49.8" lengthAdjust="spacingAndGlyphs" >DIELE</text>
<text x="535.5" y="598.0" font-size="19" font-weight="normal" fill="#1a1a1a" textLength="82.4" lengthAdjust="spacingAndGlyphs" >12,00 m²</text>
<text x="956.8" y="575.6" font-size="19.2" font-weight="normal" fill="#1a1a1a" textLength="50.0" lengthAdjust="spacingAndGlyphs" >DIELE</text>
<text x="957.2" y="603.1" font-size="19" font-weight="normal" fill="#1a1a1a" textLength="82.6" lengthAdjust="spacingAndGlyphs" >12,00 m²</text>
<text x="394.0" y="647.4" font-size="18.2" font-weight="normal" fill="#1a1a1a" textLength="63.6" lengthAdjust="spacingAndGlyphs" >KÜCHE</text>
<text x="393.6" y="671.0" font-size="18.2" font-weight="normal" fill="#1a1a1a" textLength="64.0" lengthAdjust="spacingAndGlyphs" >8,43 m²</text>
<text x="1119.0" y="631.0" font-size="18.2" font-weight="normal" fill="#1a1a1a" textLength="63.6" lengthAdjust="spacingAndGlyphs" >KÜCHE</text>
<text x="1118.0" y="655.4" font-size="18.2" font-weight="normal" fill="#1a1a1a" textLength="64.0" lengthAdjust="spacingAndGlyphs" >8,43 m²</text>
<text x="660.0" y="745.4" font-size="18.2" font-weight="normal" fill="#1a1a1a" textLength="75.0" lengthAdjust="spacingAndGlyphs" >HAUSW.</text>
<text x="660.0" y="773.2" font-size="18.2" font-weight="normal" fill="#1a1a1a" textLength="71.0" lengthAdjust="spacingAndGlyphs" >6,52 m²</text>
<text x="831.5" y="747.2" font-size="18.2" font-weight="normal" fill="#1a1a1a" textLength="75.0" lengthAdjust="spacingAndGlyphs" >HAUSW.</text>
<text x="831.0" y="775.2" font-size="18.2" font-weight="normal" fill="#1a1a1a" textLength="71.5" lengthAdjust="spacingAndGlyphs" >6,52 m²</text>
<text x="387.2" y="838.3" font-size="18.2" font-weight="normal" fill="#1a1a1a" textLength="30.4" lengthAdjust="spacingAndGlyphs" >WC</text>
<text x="386.1" y="866.1" font-size="18.2" font-weight="normal" fill="#1a1a1a" textLength="70.4" lengthAdjust="spacingAndGlyphs" >2,23 m²</text>
<text x="1119.0" y="844.0" font-size="18.2" font-weight="normal" fill="#1a1a1a" textLength="30.4" lengthAdjust="spacingAndGlyphs" >WC</text>
<text x="1119.0" y="872.0" font-size="18.2" font-weight="normal" fill="#1a1a1a" textLength="70.4" lengthAdjust="spacingAndGlyphs" >2,23 m²</text>
<text x="663.5" y="657.2" font-size="11.4" font-weight="normal" fill="#1a1a1a" textLength="19.0" lengthAdjust="spacingAndGlyphs" text-anchor="middle" stroke="#1a1a1a" stroke-width="0.25">WP</text>
<text x="900.7" y="657.2" font-size="11.4" font-weight="normal" fill="#1a1a1a" textLength="19.0" lengthAdjust="spacingAndGlyphs" text-anchor="middle" stroke="#1a1a1a" stroke-width="0.25">WP</text>
<text x="727.2" y="683.0" font-size="10.8" font-weight="normal" fill="#1a1a1a" textLength="18.4" lengthAdjust="spacingAndGlyphs" text-anchor="middle" stroke="#1a1a1a" stroke-width="0.25">WS</text>
<text x="837.0" y="683.0" font-size="10.8" font-weight="normal" fill="#1a1a1a" textLength="18.4" lengthAdjust="spacingAndGlyphs" text-anchor="middle" stroke="#1a1a1a" stroke-width="0.25">WS</text>
<text x="740.4" y="857.2" font-size="12" font-weight="normal" fill="#1a1a1a" textLength="24.3" lengthAdjust="spacingAndGlyphs" text-anchor="middle" stroke="#1a1a1a" stroke-width="0.25">W/T</text>
<text x="0.0" y="0.0" font-size="12" font-weight="normal" fill="#1a1a1a" textLength="24.3" lengthAdjust="spacingAndGlyphs" text-anchor="middle" stroke="#1a1a1a" stroke-width="0.25" transform="translate(824.9,849.3) rotate(180)">W/T</text>
<text x="632.8" y="868.2" font-size="11" font-weight="normal" fill="#1a1a1a" textLength="25.9" lengthAdjust="spacingAndGlyphs" text-anchor="middle" stroke="#1a1a1a" stroke-width="0.25">MSH</text>
<text x="0.0" y="0.0" font-size="11" font-weight="normal" fill="#1a1a1a" textLength="25.9" lengthAdjust="spacingAndGlyphs" text-anchor="middle" stroke="#1a1a1a" stroke-width="0.25" transform="translate(931.4,860.6) rotate(180)">MSH</text>
<text x="634.5" y="926.3" font-size="11.6" font-weight="normal" fill="#1a1a1a" textLength="15.7" lengthAdjust="spacingAndGlyphs" text-anchor="middle" stroke="#1a1a1a" stroke-width="0.25">HA</text>
<text x="929.3" y="926.3" font-size="11.6" font-weight="normal" fill="#1a1a1a" textLength="15.7" lengthAdjust="spacingAndGlyphs" text-anchor="middle" stroke="#1a1a1a" stroke-width="0.25">HA</text>
<text x="287.6" y="930.4" font-size="14.6" font-weight="bold" fill="#1a1a1a" textLength="54.4" lengthAdjust="spacingAndGlyphs" >- 6,50 -</text>
<text x="1222.6" y="930.2" font-size="14.6" font-weight="bold" fill="#1a1a1a" textLength="54.4" lengthAdjust="spacingAndGlyphs" >- 6,50 -</text>
<text x="0.0" y="0.0" font-size="16.4" font-weight="bold" fill="#1a1a1a" textLength="64.4" lengthAdjust="spacingAndGlyphs" transform="translate(275.6,907.6) rotate(-90)">- 11,00 -</text>
<text x="0.0" y="0.0" font-size="16.4" font-weight="bold" fill="#1a1a1a" textLength="64.4" lengthAdjust="spacingAndGlyphs" transform="translate(1299,907.4) rotate(-90)">- 11,00 -</text>
</g>
</svg>
</body>
</html>
